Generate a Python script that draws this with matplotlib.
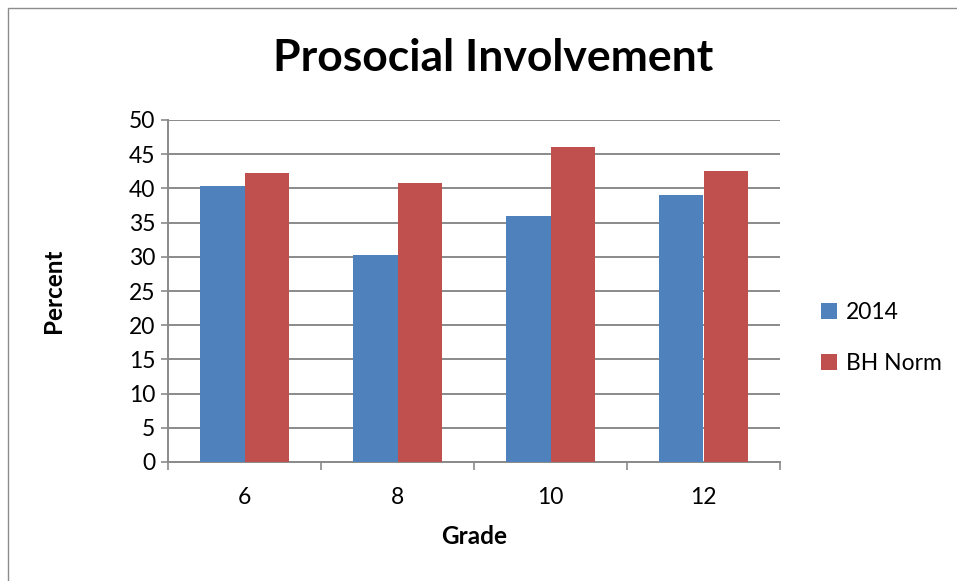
import matplotlib
matplotlib.use("Agg")
import matplotlib.pyplot as plt
import numpy as np
from matplotlib.patches import Rectangle

grades = ["6", "8", "10", "12"]
series_names = ["2014", "BH Norm"]
values_2014 = [40.3, 30.3, 35.9, 39.0]
values_norm = [42.2, 40.8, 46.1, 42.5]
colors = ["#4F81BD", "#C0504D"]

plt.rcParams["font.family"] = ["Lato", "DejaVu Sans"]

fig = plt.figure(figsize=(9.57, 5.81), dpi=100)
ax = fig.add_axes([168 / 957, 1 - 462 / 581, (780 - 168) / 957, (462 - 120) / 581])

# outer chart frame
fig.patches.append(Rectangle((8 / 957, -0.2), 1.2, 1.2 - 8 / 581, transform=fig.transFigure,
                             fill=False, edgecolor="#8c8c8c", linewidth=1.0))

x = np.arange(len(grades))
w = 0.288
ax.bar(x - w / 2, values_2014, w, color=colors[0], label=series_names[0], zorder=3)
ax.bar(x + w / 2, values_norm, w, color=colors[1], label=series_names[1], zorder=3)

ax.set_xlim(-0.5, len(grades) - 0.5)
ax.set_ylim(0, 50)
ax.set_yticks(np.arange(0, 51, 5))
ax.yaxis.grid(True, color="#8a8a8a", linewidth=1.4, zorder=0)
ax.set_axisbelow(True)

ax.set_xticks(x)
ax.set_xticklabels(grades)
ax.set_xticks(np.arange(-0.5, len(grades), 1), minor=True)
ax.tick_params(axis="x", which="major", length=0, pad=18, labelsize=16.5)
ax.tick_params(axis="x", which="minor", length=6, width=1.2, color="#8a8a8a", direction="out")
ax.tick_params(axis="y", length=5, width=1.2, color="#8a8a8a", labelsize=16.5, pad=4)

for s in ["top", "right"]:
    ax.spines[s].set_visible(False)
for s in ["left", "bottom"]:
    ax.spines[s].set_color("#8a8a8a")
    ax.spines[s].set_linewidth(1.4)

ax.set_xlabel("Grade", fontsize=17.5, fontweight="bold", labelpad=12)
ax.set_ylabel("Percent", fontsize=17.5, fontweight="bold", labelpad=46)

fig.text(493 / 957, 1 - 58 / 581, "Prosocial Involvement", ha="center", va="center",
         fontsize=32, fontweight="bold")

ax.legend(loc="center left", bbox_to_anchor=(1.033, 0.362), frameon=False, fontsize=16.5,
          handlelength=0.7, handleheight=0.7, handletextpad=0.4, labelspacing=1.3)

fig.savefig("out.png", dpi=100)
